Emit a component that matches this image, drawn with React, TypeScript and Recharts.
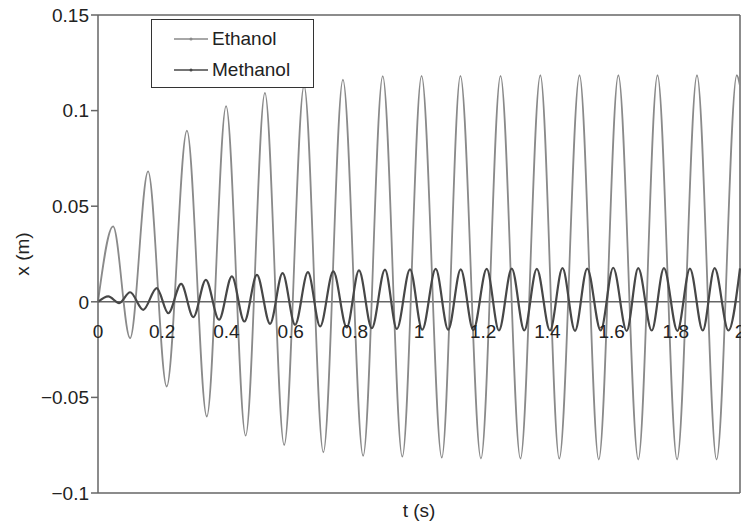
import React from 'react';
import {
  LineChart, Line, XAxis, YAxis, ReferenceLine, ReferenceDot
} from 'recharts';

const ETH_T = [0, 0.047, 0.1, 0.156, 0.214, 0.277, 0.339, 0.399, 0.46, 0.52, 0.58, 0.642, 0.702, 0.763, 0.826, 0.887, 0.948, 1.008, 1.071, 1.129, 1.193, 1.254, 1.316, 1.378, 1.437, 1.5, 1.56, 1.621, 1.683, 1.743, 1.804, 1.866, 1.927, 1.99, 2.0];
const ETH_X = [0, 0.0394, -0.019, 0.0682, -0.0443, 0.0895, -0.06, 0.1023, -0.07, 0.1093, -0.0749, 0.113, -0.0787, 0.1162, -0.0806, 0.118, -0.081, 0.1182, -0.0815, 0.1182, -0.082, 0.1182, -0.082, 0.1185, -0.082, 0.1185, -0.0825, 0.1185, -0.0825, 0.1185, -0.0825, 0.1185, -0.0825, 0.1185, 0.113];

const MET_T = [0, 0.032, 0.066, 0.1, 0.141, 0.183, 0.219, 0.259, 0.297, 0.336, 0.377, 0.417, 0.456, 0.495, 0.536, 0.575, 0.614, 0.654, 0.692, 0.733, 0.775, 0.813, 0.853, 0.894, 0.931, 0.972, 1.01, 1.052, 1.091, 1.13, 1.169, 1.211, 1.249, 1.289, 1.328, 1.367, 1.408, 1.447, 1.486, 1.524, 1.566, 1.605, 1.647, 1.683, 1.725, 1.763, 1.805, 1.844, 1.884, 1.921, 1.964, 2.0];
const MET_X = [0, 0.0028, -0.0007, 0.005, -0.0042, 0.0072, -0.006, 0.0094, -0.008, 0.0115, -0.0094, 0.0133, -0.0103, 0.0141, -0.0115, 0.015, -0.012, 0.0155, -0.0129, 0.0159, -0.0134, 0.0164, -0.0138, 0.0168, -0.0142, 0.017, -0.0146, 0.0172, -0.0146, 0.017, -0.0148, 0.0172, -0.015, 0.0174, -0.015, 0.0172, -0.015, 0.0176, -0.0152, 0.0174, -0.015, 0.0178, -0.0152, 0.0176, -0.015, 0.0176, -0.0152, 0.0174, -0.015, 0.0176, -0.015, 0.0175];

const X_TICKS = [0, 0.2, 0.4, 0.6, 0.8, 1, 1.2, 1.4, 1.6, 1.8, 2];
const Y_TICKS = [-0.1, -0.05, 0, 0.05, 0.1, 0.15];

const ethanol = ETH_T.map((t, i) => ({ t, x: ETH_X[i] }));
const methanol = MET_T.map((t, i) => ({ t, x: MET_X[i] }));

const FONT = '"Liberation Sans", Arial, sans-serif';
const FS = 19;
const ETH_COLOR = '#8a8a8a';
const MET_COLOR = '#474747';
const AXIS = '#666';

const SERIES = [
  { name: 'Ethanol', color: ETH_COLOR },
  { name: 'Methanol', color: MET_COLOR },
];

const fmtY = (v: number) => (v === 0 ? '0' : v < 0 ? '\u2212' + String(Math.abs(v)) : String(v));

const YLabel = ({ viewBox }: any) => {
  const cx = viewBox.x + 22;
  const cy = viewBox.y + viewBox.height / 2;
  return (
    <text x={cx} y={cy} transform={`rotate(-90 ${cx} ${cy})`} textAnchor="middle"
      dominantBaseline="central" fontSize={FS} fill="#222" fontFamily={FONT}>
      x (m)
    </text>
  );
};

const LegendBox = () => (
  <div style={{
    position: 'absolute', left: 151, top: 19, width: 163, height: 69,
    border: '1.5px solid #333', background: '#fff', boxSizing: 'border-box',
    paddingTop: 3, fontFamily: FONT, fontSize: FS, color: '#222'
  }}>
    {SERIES.map((s) => (
      <div key={s.name} style={{ display: 'flex', alignItems: 'center', height: 31, paddingLeft: 22 }}>
        <svg width={34} height={10} style={{ marginRight: 4 }}>
          <line x1={0} y1={5} x2={34} y2={5} stroke={s.color} strokeWidth={1.3} />
          <circle cx={17} cy={5} r={1.5} fill={s.color} />
        </svg>
        <span>{s.name}</span>
      </div>
    ))}
  </div>
);

export default function App() {
  return (
    <div style={{ position: 'absolute', left: 0, top: 0, width: 741, height: 523, background: '#fff' }}>
      <LineChart width={741} height={523} margin={{ top: 15, right: 1, bottom: 0, left: 0 }}>
        <XAxis
          dataKey="t" type="number" domain={[0, 2]} ticks={X_TICKS}
          tick={false} tickLine={false} height={30}
          axisLine={{ stroke: AXIS, strokeWidth: 1.5 }}
          label={{ value: 't (s)', position: 'insideBottom', offset: 6, fontSize: FS, fill: '#222', fontFamily: FONT }}
        />
        <YAxis
          type="number" domain={[-0.1, 0.15]} ticks={Y_TICKS} width={98}
          tickFormatter={fmtY} tickSize={7}
          tick={{ fontSize: FS, fill: '#222', fontFamily: FONT }}
          tickLine={{ stroke: AXIS, strokeWidth: 1.5 }}
          axisLine={{ stroke: AXIS, strokeWidth: 1.5 }}
          label={<YLabel />}
        />
        <ReferenceLine y={0.15} stroke={AXIS} strokeWidth={1.5} />
        <ReferenceLine x={2} stroke={AXIS} strokeWidth={1.5} />
        <ReferenceLine y={0} stroke={AXIS} strokeWidth={1.5} />
        {X_TICKS.map((t) => (
          <ReferenceDot key={t} x={t} y={0} r={0} stroke="none"
            label={{ value: String(t), position: 'bottom', offset: 23, fontSize: FS, fill: '#222', fontFamily: FONT }} />
        ))}
        <Line data={ethanol} dataKey="x" name="Ethanol" type="monotone" stroke={ETH_COLOR}
          strokeWidth={1.8} dot={false} isAnimationActive={false} />
        <Line data={methanol} dataKey="x" name="Methanol" type="monotone" stroke={MET_COLOR}
          strokeWidth={2.2} dot={false} isAnimationActive={false} />
      </LineChart>
      <LegendBox />
    </div>
  );
}
